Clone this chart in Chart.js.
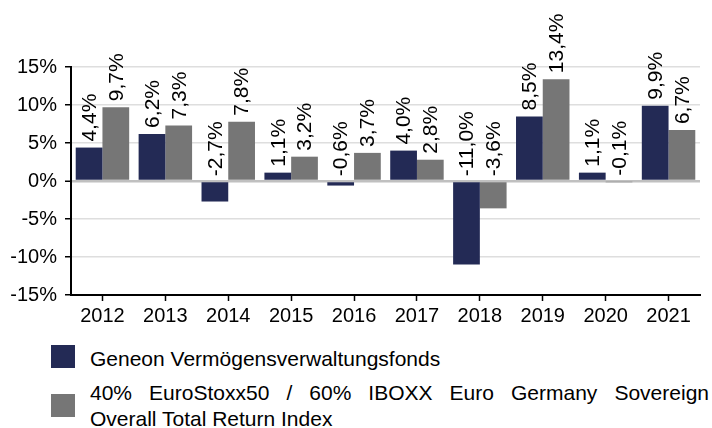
<!DOCTYPE html>
<html><head><meta charset="utf-8">
<script src="https://cdn.jsdelivr.net/npm/chart.js@4/dist/chart.umd.min.js"></script>
<style>
html,body{margin:0;padding:0;background:#fff;}
#wrap{position:relative;width:712px;height:428px;overflow:hidden;font-family:"Liberation Sans",Arial,sans-serif;}
#box{position:absolute;left:0;top:0;width:712px;height:330px;}
.sw{position:absolute;left:51px;width:24px;height:23px;}
.lt{position:absolute;left:90px;font-size:21px;line-height:26px;color:#000;white-space:nowrap;}
.jt{position:absolute;left:90px;width:619px;font-size:21px;line-height:26px;color:#000;text-align:justify;text-align-last:justify;white-space:normal;}
</style></head>
<body>
<div id="wrap">
  <div id="box"><canvas id="cv" width="712" height="330"></canvas></div>
  <div class="sw" id="sw0" style="top:345px"></div>
  <div class="lt" id="lg0" style="top:346px"></div>
  <div class="sw" id="sw1" style="top:394px"></div>
  <div class="jt" id="lg1a" style="top:380px"></div>
  <div class="lt" id="lg1b" style="top:406px"></div>
</div>
<script>
const years = ['2012','2013','2014','2015','2016','2017','2018','2019','2020','2021'];
const fundValues = [4.4, 6.2, -2.7, 1.1, -0.6, 4.0, -11.0, 8.5, 1.1, 9.9];
const benchmarkValues = [9.7, 7.3, 7.8, 3.2, 3.7, 2.8, -3.6, 13.4, -0.1, 6.7];
const fundName = 'Geneon Vermögensverwaltungsfonds';
const benchmarkLine1 = '40% EuroStoxx50 / 60% IBOXX Euro Germany Sovereign';
const benchmarkLine2 = 'Overall Total Return Index';
const yTickValues = [-15, -10, -5, 0, 5, 10, 15];
const colors = ['#232a55', '#767676'];

const FONT = '"Liberation Sans", Arial, sans-serif';
const fmt = v => v.toFixed(1).replace('.', ',') + '%';

document.getElementById('sw0').style.background = colors[0];
document.getElementById('sw1').style.background = colors[1];
document.getElementById('lg0').textContent = fundName;
document.getElementById('lg1a').textContent = benchmarkLine1;
document.getElementById('lg1b').textContent = benchmarkLine2;

const valueLabels = {
  id: 'valueLabels',
  afterDatasetsDraw(chart) {
    const ctx = chart.ctx;
    ctx.save();
    ctx.font = '21px ' + FONT;
    ctx.fillStyle = '#000';
    ctx.textAlign = 'left';
    ctx.textBaseline = 'middle';
    chart.data.datasets.forEach((ds, i) => {
      const meta = chart.getDatasetMeta(i);
      meta.data.forEach((el, j) => {
        const v = ds.data[j];
        const start = Math.min(el.y, el.base) - 6;
        ctx.save();
        ctx.translate(el.x, start);
        ctx.rotate(-Math.PI / 2);
        ctx.fillText(fmt(v), 0, 1);
        ctx.restore();
      });
    });
    ctx.restore();
  }
};

new Chart(document.getElementById('cv'), {
  type: 'bar',
  data: {
    labels: years,
    datasets: [
      { label: fundName, data: fundValues, backgroundColor: colors[0], borderWidth: 0 },
      { label: benchmarkLine1 + ' ' + benchmarkLine2, data: benchmarkValues, backgroundColor: colors[1], borderWidth: 0 }
    ]
  },
  options: {
    responsive: false,
    animation: false,
    layout: { padding: { top: 67, right: 12, bottom: 0, left: 0 } },
    datasets: { bar: { categoryPercentage: 0.85, barPercentage: 1.0 } },
    plugins: { legend: { display: false }, tooltip: { enabled: false } },
    scales: {
      x: {
        offset: true,
        grid: { drawOnChartArea: false, offset: false, tickLength: 6, tickColor: '#000', tickWidth: 1.5 },
        border: { color: '#000', width: 2 },
        ticks: { font: { family: FONT, size: 20 }, color: '#000', padding: 3, maxRotation: 0, autoSkip: false },
        afterFit: s => { s.height = 35; }
      },
      y: {
        min: -15, max: 15,
        afterBuildTicks: s => { s.ticks = yTickValues.map(v => ({ value: v })); },
        ticks: { font: { family: FONT, size: 20 }, color: '#000', padding: 8, callback: v => v + '%' },
        grid: {
          color: c => (c.tick && c.tick.value === 0) ? '#c0c0c0' : '#dedede',
          lineWidth: c => (c.tick && c.tick.value === 0) ? 2.5 : 1.5,
          tickColor: '#000', tickLength: 6, tickWidth: 1.5
        },
        border: { color: '#000', width: 2 },
        afterFit: s => { s.width = 71; }
      }
    }
  },
  plugins: [valueLabels]
});
</script>
</body></html>
